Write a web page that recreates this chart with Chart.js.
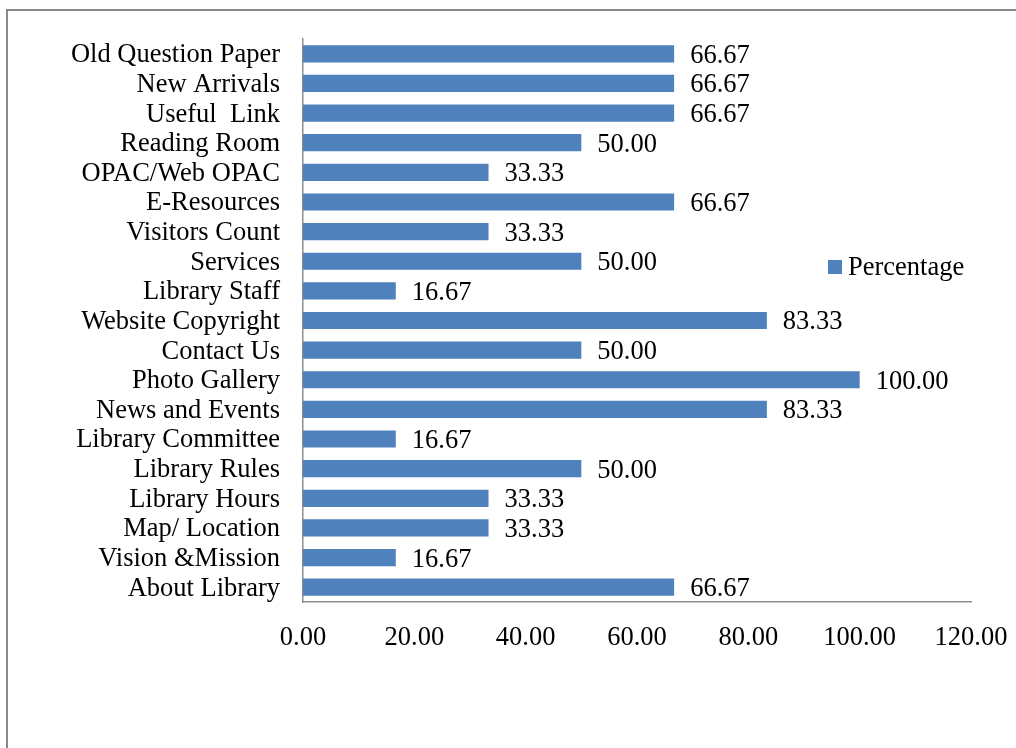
<!DOCTYPE html>
<html>
<head>
<meta charset="utf-8">
<script src="https://cdn.jsdelivr.net/npm/chart.js@4.4.0/dist/chart.umd.min.js"></script>
<style>
html,body{margin:0;padding:0;background:#fff;overflow:hidden}
#wrap{width:1016px;height:748px;position:relative}
</style>
</head>
<body>
<div id="wrap"><canvas id="c" width="1016" height="748"></canvas></div>
<script>
const categories = [
  "Old Question Paper", "New Arrivals", "Useful  Link", "Reading Room",
  "OPAC/Web OPAC", "E-Resources", "Visitors Count", "Services",
  "Library Staff", "Website Copyright", "Contact Us", "Photo Gallery",
  "News and Events", "Library Committee", "Library Rules", "Library Hours",
  "Map/ Location", "Vision &Mission", "About Library"
];
const seriesName = "Percentage";
const percentage = [
  66.67, 66.67, 66.67, 50.00,
  33.33, 66.67, 33.33, 50.00,
  16.67, 83.33, 50.00, 100.00,
  83.33, 16.67, 50.00, 33.33,
  33.33, 16.67, 66.67
];
const xMin = 0, xMax = 120, xStep = 20;

const FONT = '"Liberation Serif", "Times New Roman", serif';
const FSIZE = 26.5;
const BAR = '#4F81BD';
const AXIS = '#8e8e8e';

const framePlugin = {
  id: 'frame',
  beforeDraw(chart) {
    const ctx = chart.ctx;
    ctx.save();
    ctx.fillStyle = '#fff';
    ctx.fillRect(0, 0, chart.width, chart.height);
    ctx.strokeStyle = '#8a8a8a';
    ctx.lineWidth = 2;
    ctx.beginPath();
    ctx.moveTo(7, chart.height + 2);
    ctx.lineTo(7, 10);
    ctx.lineTo(chart.width + 2, 10);
    ctx.stroke();
    ctx.restore();
  }
};

const valueLabels = {
  id: 'valueLabels',
  afterDatasetsDraw(chart) {
    const ctx = chart.ctx;
    const meta = chart.getDatasetMeta(0);
    const data = chart.data.datasets[0].data;
    ctx.save();
    ctx.font = FSIZE + 'px ' + FONT;
    ctx.fillStyle = '#000';
    ctx.textAlign = 'left';
    ctx.textBaseline = 'middle';
    meta.data.forEach((bar, i) => {
      ctx.fillText(data[i].toFixed(2), bar.x + 16, bar.y + 2);
    });
    ctx.restore();
  }
};

const customLegend = {
  id: 'customLegend',
  afterDraw(chart) {
    const ctx = chart.ctx;
    const a = chart.chartArea;
    const x = a.left + 525;
    const y = a.top + 228;
    ctx.save();
    ctx.fillStyle = chart.data.datasets[0].backgroundColor;
    ctx.fillRect(x, y - 7, 14, 14);
    ctx.font = FSIZE + 'px ' + FONT;
    ctx.fillStyle = '#000';
    ctx.textAlign = 'left';
    ctx.textBaseline = 'middle';
    ctx.fillText(chart.data.datasets[0].label, x + 20, y + 1);
    ctx.restore();
  }
};

new Chart(document.getElementById('c'), {
  type: 'bar',
  data: {
    labels: categories,
    datasets: [{
      label: seriesName,
      data: percentage,
      backgroundColor: BAR,
      borderWidth: 0,
      categoryPercentage: 1.0,
      barPercentage: 0.58
    }]
  },
  options: {
    indexAxis: 'y',
    responsive: false,
    animation: false,
    devicePixelRatio: 1,
    layout: { padding: { left: 0, right: 45, top: 39, bottom: 0 } },
    plugins: {
      legend: { display: false },
      tooltip: { enabled: false }
    },
    scales: {
      x: {
        min: xMin, max: xMax,
        grid: { display: false, drawTicks: false },
        border: { display: true, color: AXIS, width: 1.5 },
        ticks: {
          stepSize: xStep,
          padding: 20,
          color: '#000',
          font: { family: FONT, size: FSIZE },
          maxRotation: 0,
          callback: v => Number(v).toFixed(2)
        },
        afterFit(s) { s.height = 146; s.paddingLeft = 0; s.paddingRight = 0; }
      },
      y: {
        grid: { display: false, drawTicks: false },
        border: { display: true, color: AXIS, width: 1.5 },
        ticks: {
          padding: 23,
          labelOffset: 1.5,
          color: '#000',
          font: { family: FONT, size: FSIZE },
          autoSkip: false
        },
        afterFit(s) { s.width = 303; s.paddingTop = 0; s.paddingBottom = 0; }
      }
    }
  },
  plugins: [framePlugin, valueLabels, customLegend]
});
</script>
</body>
</html>
